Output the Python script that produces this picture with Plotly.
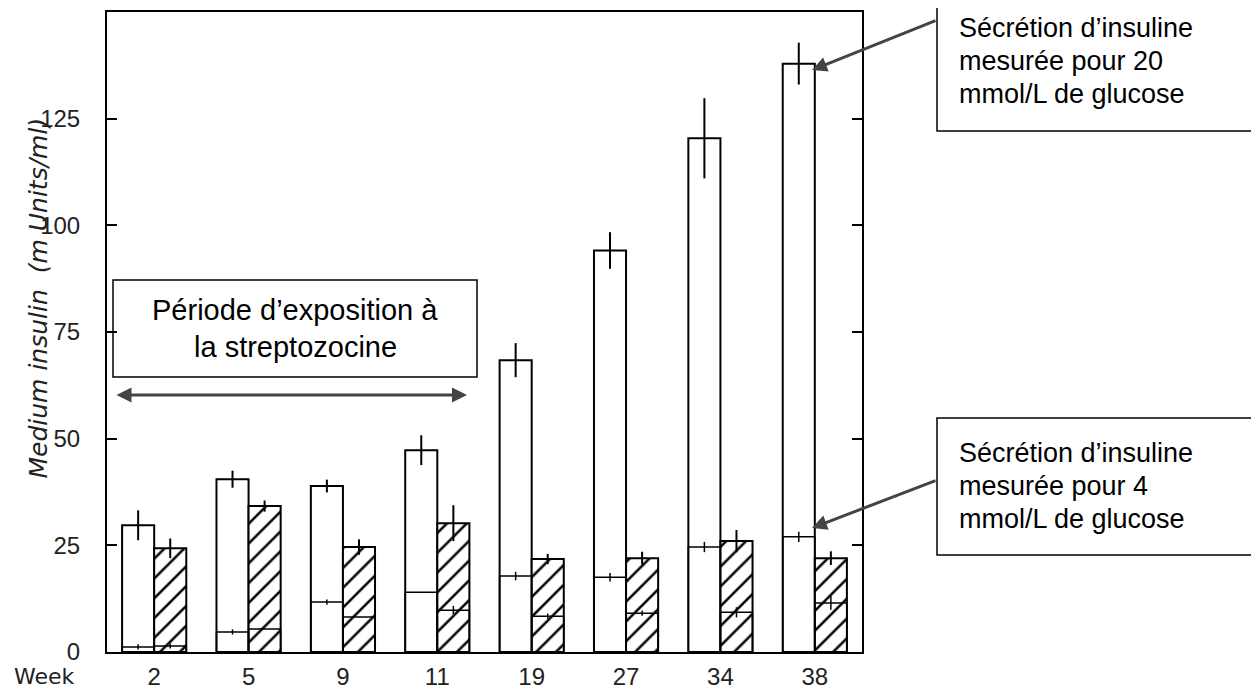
import plotly.graph_objects as go

weeks = ["2", "5", "9", "11", "19", "27", "34", "38"]
# Open bars (controls): insulin at 20 mmol/L and 4 mmol/L glucose
open_20 = [29.7, 40.5, 38.9, 47.3, 68.4, 94.1, 120.4, 137.9]
open_20_err = [3.5, 2.0, 1.5, 3.5, 4.0, 4.3, 9.4, 4.9]
open_4 = [1.2, 4.7, 11.7, 14.0, 17.8, 17.5, 24.6, 27.0]
open_4_err = [0.6, 0.6, 0.6, 0.0, 1.0, 1.0, 1.2, 1.2]
# Hatched bars (treated): insulin at 20 mmol/L and 4 mmol/L glucose
hatch_20 = [24.3, 34.2, 24.6, 30.2, 21.8, 22.0, 26.0, 22.0]
hatch_20_err = [2.3, 1.3, 1.8, 4.2, 1.2, 1.5, 2.6, 1.6]
hatch_4 = [1.4, 5.4, 8.2, 9.8, 8.4, 9.1, 9.3, 11.5]
hatch_4_err = [0.6, 0.0, 0.0, 1.0, 0.6, 0.6, 1.2, 1.6]

y_ticks = [0, 25, 50, 75, 100, 125]

W, H = 1259, 689
OFF = 8  # default page body margin
L, T = 107 - OFF, 12 - OFF
PW, PH = 755, 640
R = W - L - PW
B = H - T - PH


def px(x):
    return (x - OFF - L) / PW


def py(y):
    return (T + PH - (y - OFF)) / PH


line = dict(color="black", width=2)
fig = go.Figure()
fig.add_trace(go.Bar(
    x=weeks, y=open_20, offsetgroup="a",
    marker=dict(color="white", line=line),
    error_y=dict(type="data", array=open_20_err, width=0, thickness=2, color="black"),
))
fig.add_trace(go.Bar(
    x=weeks, y=hatch_20, offsetgroup="b",
    marker=dict(color="white", line=line,
                pattern=dict(shape="/", fgcolor="black", bgcolor="white", size=14, solidity=0.18,
                             fgopacity=1)),
    error_y=dict(type="data", array=hatch_20_err, width=0, thickness=2, color="black"),
))
fig.add_trace(go.Bar(
    x=weeks, y=open_4, offsetgroup="a",
    marker=dict(color="rgba(0,0,0,0)", line=dict(color="black", width=1.5)),
    error_y=dict(type="data", array=open_4_err, width=0, thickness=1.5, color="black"),
))
fig.add_trace(go.Bar(
    x=weeks, y=hatch_4, offsetgroup="b",
    marker=dict(color="rgba(0,0,0,0)", line=dict(color="black", width=1.5)),
    error_y=dict(type="data", array=hatch_4_err, width=0, thickness=1.5, color="black"),
))

tick_font = dict(family="Liberation Sans, Arial, sans-serif", size=24, color="#222")
fig.update_layout(
    width=W, height=H,
    margin=dict(l=L, r=R, t=T, b=B, autoexpand=False),
    paper_bgcolor="white", plot_bgcolor="white",
    showlegend=False,
    barmode="group", bargap=0.32, bargroupgap=0,
    xaxis=dict(type="category", range=[-0.5, 7.5], showline=True, linecolor="black", linewidth=2,
               mirror=True, ticks="", showgrid=False, tickfont=tick_font, ticklabelstandoff=2,
               automargin=False),
    yaxis=dict(range=[0, 150], tickvals=y_ticks, showline=True, linecolor="black", linewidth=2,
               mirror="ticks", ticks="inside", ticklen=10, tickwidth=2, tickcolor="black",
               showgrid=False, zeroline=False, tickfont=tick_font, ticklabelstandoff=20,
               automargin=False),
)

txt = dict(family="Liberation Sans, Arial, sans-serif", color="black")
ann = []
# y-axis title
ann.append(dict(xref="paper", yref="paper", x=px(21), y=py(298), showarrow=False, textangle=-90,
                text="<i>Medium insulin  (m Units/ml)</i>",
                font=dict(family="DejaVu Sans, sans-serif", size=25, color="#222")))
# Week label
ann.append(dict(xref="paper", yref="paper", x=px(12), y=py(676), xanchor="left", yanchor="middle",
                showarrow=False, text="Week", font=dict(family="DejaVu Sans, sans-serif", size=22, color="#222")))

# left box text
for t, b in [("Période d’exposition à", 310), ("la streptozocine", 347)]:
    ann.append(dict(xref="paper", yref="paper", x=px(295), y=py(b), xanchor="center", yanchor="middle",
                    showarrow=False, text=t, font=dict(size=29, **txt)))
# right boxes text
for t, b in [("Sécrétion d’insuline", 28), ("mesurée pour 20", 61), ("mmol/L de glucose", 94),
             ("Sécrétion d’insuline", 453), ("mesurée pour 4", 486), ("mmol/L de glucose", 519)]:
    ann.append(dict(xref="paper", yref="paper", x=px(957), y=py(b), xanchor="left", yanchor="middle",
                    showarrow=False, text=t, font=dict(size=27, **txt)))

arrow = dict(showarrow=True, arrowcolor="#444", arrowwidth=3, arrowhead=2, arrowsize=1, text="",
             xref="paper", yref="paper", axref="pixel", ayref="pixel")
ann.append(dict(x=px(467), y=py(395), ax=-352, ay=0, arrowside="end+start", startarrowhead=2,
                startarrowsize=1, **arrow))
ann.append(dict(x=px(812), y=py(70), ax=125, ay=-50, **arrow))
ann.append(dict(x=px(812), y=py(528), ax=125, ay=-48, **arrow))
fig.update_layout(annotations=ann)

box = dict(type="rect", xref="paper", yref="paper", line=dict(color="black", width=1.5),
           fillcolor="rgba(0,0,0,0)", layer="above")
fig.update_layout(shapes=[
    dict(x0=px(113), x1=px(477), y0=py(377), y1=py(280), **box),
    dict(x0=px(937), x1=px(1275), y0=py(131), y1=py(-5), **box),
    dict(x0=px(937), x1=px(1275), y0=py(555), y1=py(418), **box),
])

fig.write_html("out.html")
